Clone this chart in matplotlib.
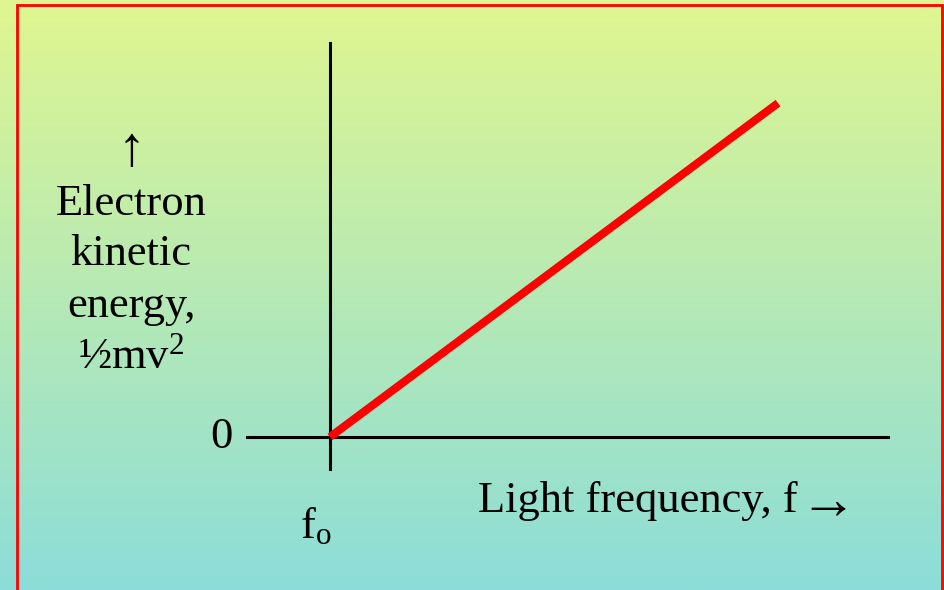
import numpy as np
import matplotlib
matplotlib.use("Agg")
import matplotlib.pyplot as plt
from matplotlib.patches import Rectangle

plt.rcParams['font.family'] = ['Liberation Serif', 'DejaVu Serif']
plt.rcParams['mathtext.fontset'] = 'custom'
plt.rcParams['mathtext.rm'] = 'Liberation Serif'
plt.rcParams['mathtext.it'] = 'Liberation Serif:italic'

# data (arbitrary units): threshold frequency f0, then KE rises linearly
freq = [2.0, 6.0]
energy = [0.0, 3.0]
f0 = freq[0]

ylabel_lines = ['Electron', 'kinetic', 'energy,', '\u00bdmv$^2$']
xlabel = 'Light frequency, f'

W, H = 945, 590
fs = 32
fig = plt.figure(figsize=(W / 100, H / 100), dpi=100)

# gradient background
bg = fig.add_axes([0, 0, 1, 1])
top = np.array([224, 246, 144]) / 255
bot = np.array([140, 221, 217]) / 255
t = np.linspace(0, 1, 256)[:, None]
grad = top[None, :] * (1 - t) + bot[None, :] * t
bg.imshow(grad[:, None, :], aspect='auto', extent=[0, 1, 0, 1])
bg.set_axis_off()
bg.add_patch(Rectangle((17 / W, -0.05), (942 - 17) / W, 1.05 - 5 / H,
                       transform=bg.transAxes, fill=False, ec='#ff0000', lw=2.0))

ax = fig.add_axes([0, 0, 1, 1])
ax.patch.set_alpha(0)
ax.set_axis_off()
ax.set_xlim(f0 - 330 / 112, f0 + 615 / 112)
ax.set_ylim(-(590 - 437) / 111.3, 437 / 111.3)

# axes lines
ax.plot([f0 - 83 / 112, f0 + 558 / 112], [0, 0], color='black', lw=2.2)
ax.plot([f0, f0], [-32 / 111.3, 394 / 111.3], color='black', lw=2.2)

ax.plot(freq, energy, color='#ff0000', lw=5.8, solid_capstyle='butt')

ax.text(f0 - 97 / 112, 0, '0', ha='right', va='center', fontsize=fs)
ax.text(f0 - 14 / 112, -101 / 111.3, 'f$_\\mathrm{o}$', ha='center', va='baseline', fontsize=fs)
fig.text(478 / W, 1 - 512 / H, xlabel, ha='left', va='baseline', fontsize=fs)
fig.text(799 / W, 1 - 519 / H, '\u2192', ha='left', va='baseline', fontsize=41)

fig.text(131 / W, 1 - 165 / H, '\u2191', ha='center', va='baseline', fontsize=40)
baselines = [215, 265, 317, 368]
for txt, b in zip(ylabel_lines, baselines):
    fig.text(131 / W, 1 - b / H, txt, ha='center', va='baseline', fontsize=fs)

fig.savefig('out.png', dpi=100)
